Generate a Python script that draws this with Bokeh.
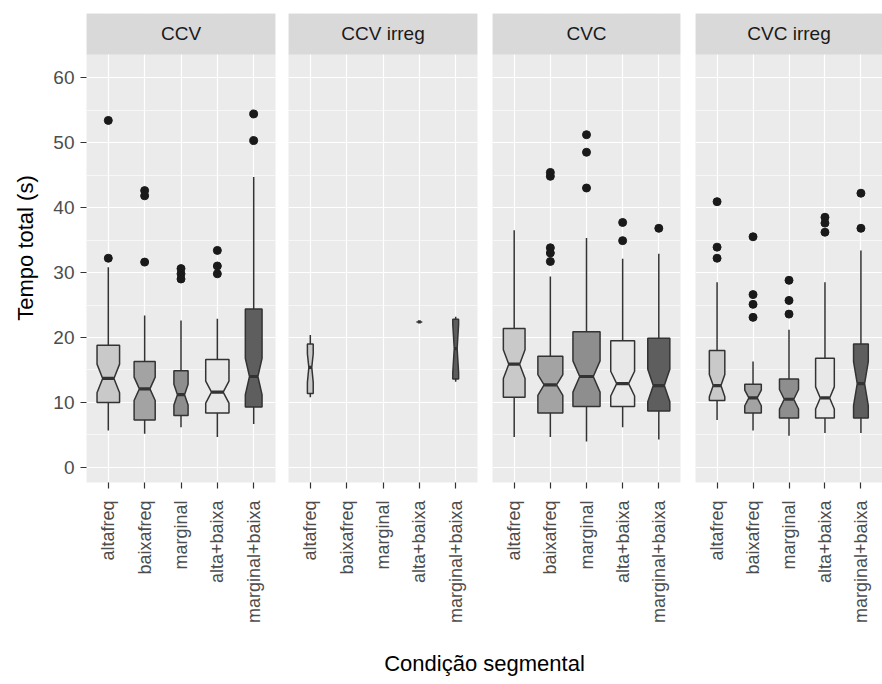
import math
from bokeh.plotting import figure
from bokeh.models import FactorRange, Range1d, FixedTicker, BoxAnnotation
from bokeh.layouts import row, column
from bokeh.embed import file_html
from bokeh.resources import INLINE
from bokeh.core.properties import value

# ---------------- data ----------------
categories = ["altafreq", "baixafreq", "marginal", "alta+baixa", "marginal+baixa"]
facets = ["CCV", "CCV irreg", "CVC", "CVC irreg"]
fill_colors = ["#c9c9c9", "#a3a3a3", "#8e8e8e", "#e8e8e8", "#5e5e5e"]
y_ticks = [0, 10, 20, 30, 40, 50, 60]
y_minor = [5, 15, 25, 35, 45, 55]

# rows = facets, columns = categories (None = no data)
whisker_low = [
    [5.7, 5.2, 6.2, 4.7, 6.7],
    [10.8, None, None, 22.4, 13.2],
    [4.7, 4.7, 4.0, 6.2, 4.3],
    [7.3, 5.7, 4.9, 5.3, 5.3],
]
q1 = [
    [10.0, 7.3, 8.0, 8.4, 9.3],
    [11.4, None, None, 22.4, 13.6],
    [10.8, 8.4, 9.4, 9.4, 8.7],
    [10.3, 8.4, 7.6, 7.6, 7.6],
]
median = [
    [13.7, 12.1, 11.2, 11.6, 14.0],
    [15.4, None, None, 22.4, 18.3],
    [15.9, 12.7, 14.0, 12.9, 12.6],
    [12.6, 10.7, 10.5, 10.7, 12.9],
]
q3 = [
    [18.8, 16.3, 14.9, 16.6, 24.4],
    [19.0, None, None, 22.4, 22.8],
    [21.4, 17.1, 20.9, 19.5, 19.9],
    [18.0, 12.8, 13.6, 16.8, 19.0],
]
whisker_high = [
    [30.8, 23.4, 22.6, 22.9, 44.7],
    [20.4, None, None, 22.4, 23.2],
    [36.5, 29.4, 35.3, 32.1, 32.9],
    [28.5, 16.3, 21.2, 28.5, 33.4],
]
notch_low = [
    [11.5, 10.3, 9.6, 9.9, 11.2],
    [13.1, None, None, 22.4, 14.6],
    [13.7, 11.1, 11.6, 11.0, 10.1],
    [10.9, 9.5, 9.0, 9.0, 9.5],
]
notch_high = [
    [15.9, 13.9, 12.8, 13.3, 16.8],
    [17.5, None, None, 22.4, 22.0],
    [18.1, 14.3, 16.4, 14.8, 15.1],
    [14.3, 11.9, 12.0, 12.4, 16.3],
]
box_width = [
    [0.62, 0.58, 0.39, 0.64, 0.46],
    [0.16, None, None, 0.16, 0.16],
    [0.60, 0.69, 0.75, 0.66, 0.61],
    [0.43, 0.46, 0.53, 0.52, 0.41],
]
outliers = [
    [[53.4, 32.2], [42.6, 41.8, 31.6], [30.6, 29.8, 29.0], [33.4, 31.0, 29.8], [54.4, 50.3]],
    [[], [], [], [], []],
    [[], [45.4, 44.8, 33.8, 33.0, 31.7], [51.2, 48.5, 43.0], [37.7, 34.9], [36.8]],
    [[40.9, 33.9, 32.2], [35.5, 26.6, 25.1, 23.1], [28.8, 25.7, 23.6], [38.5, 37.6, 36.2], [42.2, 36.8]],
]

# ---------------- layout / style ----------------
FONT = "Liberation Sans"
INK = "#333333"
y_range = Range1d(-2.31, 69.85)
STRIP_BOTTOM = 63.54
STRIP_TEXT_Y = 66.7

panel_w = [288, 204, 203, 187]
border_l = [86, 0, 0, 0]
border_r = [13, 15, 15, 0]
ROW_H = 632


def make_panel(k):
    p = figure(
        x_range=FactorRange(factors=categories, range_padding=0.1, range_padding_units="absolute"),
        y_range=y_range,
        width=panel_w[k], height=ROW_H,
        title=None,
        output_backend="svg", toolbar_location=None,
        y_axis_location="left" if k == 0 else None,
        min_border_left=border_l[k], min_border_right=border_r[k],
        min_border_top=13, min_border_bottom=150,
    )
    p.background_fill_color = "#ebebeb"
    p.border_fill_color = "white"
    p.outline_line_color = None

    # grids
    p.xgrid.grid_line_color = "white"
    p.xgrid.grid_line_width = 1.2
    p.ygrid.ticker = FixedTicker(ticks=y_ticks, minor_ticks=y_minor)
    p.ygrid.grid_line_color = "white"
    p.ygrid.grid_line_width = 1.2
    p.ygrid.minor_grid_line_color = "white"
    p.ygrid.minor_grid_line_width = 0.6

    # strip
    strip = BoxAnnotation(bottom=STRIP_BOTTOM, fill_color="#d9d9d9", fill_alpha=1.0,
                          line_color=None, level="underlay")
    p.add_layout(strip)
    p.text(x=[categories[2]], y=[STRIP_TEXT_Y], text=[facets[k]],
           text_font=value(FONT), text_font_size="19px", text_color="#1a1a1a",
           text_align="center", text_baseline="middle")

    # boxes
    xs, ys, fills = [], [], []
    wx, wy0, wy1 = [], [], []
    mx0, mx1, my = [], [], []
    ox, oy = [], []
    for i, cat in enumerate(categories):
        for v in outliers[k][i]:
            ox.append(cat)
            oy.append(v)
        if median[k][i] is None:
            continue
        c = i + 0.5
        w = box_width[k][i]
        xmin, xmax = c - w / 2, c + w / 2
        ind = 0.25 * w
        xs.append([xmin, xmin, xmin + ind, xmin, xmin, xmax, xmax, xmax - ind, xmax, xmax, xmin])
        ys.append([q3[k][i], notch_high[k][i], median[k][i], notch_low[k][i], q1[k][i],
                   q1[k][i], notch_low[k][i], median[k][i], notch_high[k][i], q3[k][i], q3[k][i]])
        fills.append(fill_colors[i])
        wx += [cat, cat]
        wy0 += [q3[k][i], q1[k][i]]
        wy1 += [whisker_high[k][i], whisker_low[k][i]]
        mx0.append(xmin + ind)
        mx1.append(xmax - ind)
        my.append(median[k][i])

    if ox:
        p.scatter(x=ox, y=oy, size=8, fill_color="#1a1a1a", line_color="#1a1a1a")
    if wx:
        p.segment(x0=wx, y0=wy0, x1=wx, y1=wy1, line_color=INK, line_width=1.5)
        p.patches(xs=xs, ys=ys, fill_color=fills, line_color=INK, line_width=1.5)
        p.segment(x0=mx0, y0=my, x1=mx1, y1=my, line_color=INK, line_width=3.2)

    # x axis
    ax = p.xaxis[0]
    ax.major_label_orientation = math.pi / 2
    ax.axis_line_color = None
    ax.major_tick_out = 6
    ax.major_tick_in = 0
    ax.major_tick_line_color = INK
    ax.major_tick_line_width = 1.2
    ax.major_label_standoff = 12
    ax.major_label_text_font = FONT
    ax.major_label_text_font_size = "18px"
    ax.major_label_text_color = "#4d4d4d"

    if k == 0:
        ya = p.yaxis[0]
        ya.ticker = FixedTicker(ticks=y_ticks)
        ya.axis_line_color = None
        ya.minor_tick_line_color = None
        ya.major_tick_out = 6
        ya.major_tick_in = 0
        ya.major_tick_line_color = INK
        ya.major_tick_line_width = 1.2
        ya.major_label_standoff = 6
        ya.major_label_text_font = FONT
        ya.major_label_text_font_size = "19px"
        ya.major_label_text_color = "#4d4d4d"
        ya.axis_label = "Tempo total (s)"
        ya.axis_label_text_font = FONT
        ya.axis_label_text_font_size = "22px"
        ya.axis_label_text_font_style = "normal"
        ya.axis_label_text_color = "black"
        ya.axis_label_standoff = 12
    return p


panels = [make_panel(k) for k in range(4)]

# x-axis title, centred under all panels
lab = figure(width=882, height=52, title=None, x_range=Range1d(0, 1), y_range=Range1d(0, 52),
             x_axis_location=None, y_axis_location=None, output_backend="svg",
             toolbar_location=None, min_border_left=86, min_border_right=0,
             min_border_top=0, min_border_bottom=0)
lab.outline_line_color = None
lab.background_fill_color = "white"
lab.grid.visible = False
lab.text(x=[0.5], y=[21], text=["Condição segmental"], text_font=value(FONT),
         text_font_size="22px", text_color="black", text_align="center", text_baseline="middle")

layout = column(row(*panels), lab)
open("out.html", "w").write(file_html(layout, INLINE))
